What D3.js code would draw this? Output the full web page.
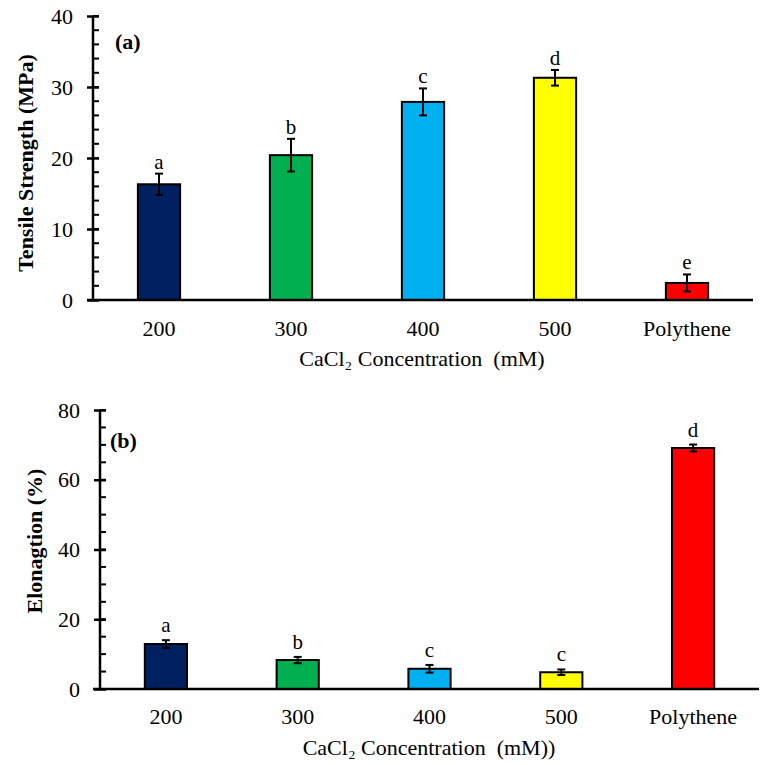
<!DOCTYPE html>
<html><head><meta charset="utf-8">
<script src="https://cdn.jsdelivr.net/npm/d3@7"></script>
</head><body style="margin:0;background:#fff">
<svg id="c" width="763" height="765"></svg>
<script>
const categories = ["200","300","400","500","Polythene"];
const colors = ["#002060","#00B050","#00B0F0","#FFFF00","#FF0000"];
const tensile = [16.3, 20.4, 27.9, 31.3, 2.4];
const tensileErr = [1.5, 2.3, 1.9, 1.1, 1.2];
const tensileLetters = ["a","b","c","d","e"];
const tensileTicks = [0,10,20,30,40];
const elong = [12.9, 8.3, 5.8, 4.8, 69.1];
const elongErr = [1.1, 0.9, 1.1, 0.8, 1.0];
const elongLetters = ["a","b","c","c","d"];
const elongTicks = [0,20,40,60,80];

const FONT = "'Liberation Serif'";
const svg = d3.select("#c");

function txt(sel, size){ return sel.style("font-family", FONT).attr("font-size", size || 22).attr("fill","#000"); }

function panel(o){
  const g = svg.append("g");
  const x = d3.scaleBand().domain(categories).range([o.x0, o.x1]).paddingInner(0.68).paddingOuter(0.34);
  const y = d3.scaleLinear().domain([0, o.max]).range([o.yb, o.yt]);
  const minors = d3.range(0, o.max + 0.001, o.minor);
  g.selectAll(".mn").data(minors).join("line")
    .attr("x1", o.ax).attr("x2", o.ax + 6).attr("y1", d=>y(d)).attr("y2", d=>y(d))
    .attr("stroke","#000").attr("stroke-width",2);
  const ya = d3.axisLeft(y).tickValues(o.ticks).tickSize(6).tickPadding(14);
  const yg = g.append("g").attr("transform",`translate(${o.ax},0)`).call(ya);
  yg.attr("font-family", null).attr("font-size", null);
  yg.select(".domain").attr("stroke-width",2.5).attr("d",`M0,${y(0)}V${y(o.max)}`);
  yg.selectAll(".tick line").attr("x1",6).attr("x2",-6).attr("stroke-width",2.5);
  txt(yg.selectAll(".tick text"));
  g.selectAll(".bar").data(o.values).join("rect")
    .attr("x",(d,i)=>x(categories[i])).attr("width",x.bandwidth())
    .attr("y",d=>y(d)).attr("height",d=>y(0)-y(d))
    .attr("fill",(d,i)=>colors[i]).attr("stroke","#000").attr("stroke-width",2);
  g.append("line").attr("x1",o.xl0).attr("x2",o.x1).attr("y1",y(0)).attr("y2",y(0))
    .attr("stroke","#000").attr("stroke-width",2.5);
  o.values.forEach((v,i)=>{
    const cx = x(categories[i]) + x.bandwidth()/2;
    const e = o.errs[i];
    const eg = g.append("g").attr("stroke","#000").attr("stroke-width",2);
    eg.append("line").attr("x1",cx).attr("x2",cx).attr("y1",y(v+e)).attr("y2",y(v-e));
    eg.append("line").attr("x1",cx-4).attr("x2",cx+4).attr("y1",y(v+e)).attr("y2",y(v+e));
    eg.append("line").attr("x1",cx-4).attr("x2",cx+4).attr("y1",y(v-e)).attr("y2",y(v-e));
    txt(g.append("text"), 21).attr("x",cx).attr("y",y(v+e)-o.lgap).attr("text-anchor","middle").text(o.letters[i]);
  });
  txt(g.selectAll(".cl").data(categories).join("text"))
    .attr("x",d=>x(d)+x.bandwidth()/2).attr("y",o.catY).attr("text-anchor","middle").text(d=>d);
  txt(g.append("text")).attr("x",o.titleX).attr("y",o.titleY).attr("text-anchor","middle")
    .text("CaCl\u2082 Concentration\u00a0 " + o.unit);
  txt(g.append("text")).attr("transform",`translate(${o.ytX},${o.ytY}) rotate(-90)`)
    .attr("text-anchor","middle").attr("font-weight","bold").text(o.ytitle);
  txt(g.append("text")).attr("x",o.plX).attr("y",o.plY).attr("font-weight","bold").text(o.pl);
}

panel({x0:93,x1:753,xl0:87,ax:93,yb:300,yt:16,max:40,minor:2,ticks:tensileTicks,values:tensile,errs:tensileErr,
  letters:tensileLetters,lgap:5,catY:336,titleX:422,titleY:366,unit:"(mM)",ytitle:"Tensile Strength (MPa)",
  ytX:33,ytY:163,pl:"(a)",plX:115,plY:49});
panel({x0:100,x1:759,xl0:93,ax:100,yb:689,yt:410,max:80,minor:5,ticks:elongTicks,values:elong,errs:elongErr,
  letters:elongLetters,lgap:8,catY:724,titleX:429,titleY:755,unit:"(mM))",ytitle:"Elonagtion (%)",
  ytX:42,ytY:541,pl:"(b)",plX:110,plY:448});
</script>
</body></html>
